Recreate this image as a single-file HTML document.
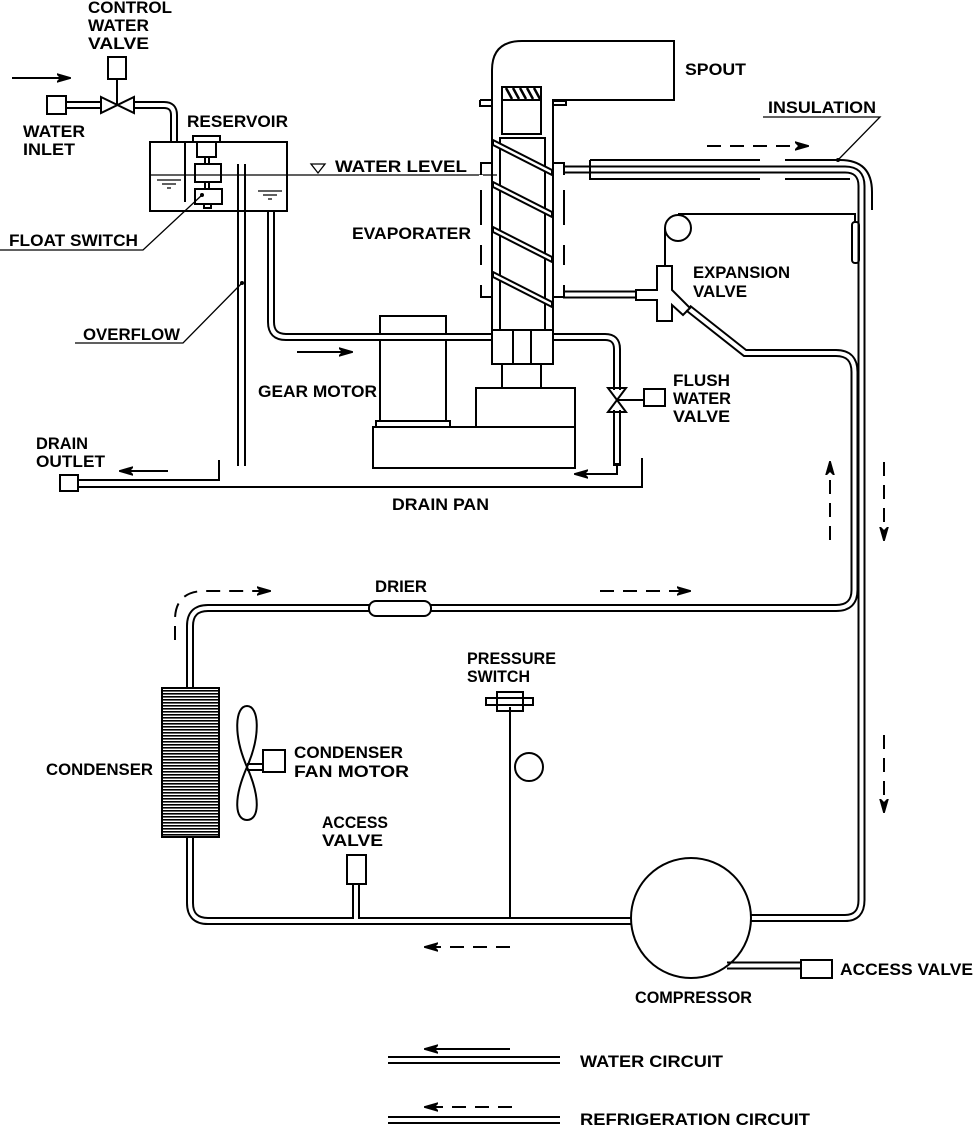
<!DOCTYPE html>
<html><head><meta charset="utf-8"><style>
html,body{margin:0;padding:0;background:#fff;}
svg{display:block}
text{font-family:"Liberation Sans",sans-serif;font-weight:bold;font-size:16.5px;fill:#000}
.l{fill:none;stroke:#000;stroke-width:2}
.t{fill:none;stroke:#000;stroke-width:1.3}
.po{fill:none;stroke:#000;stroke-width:8}
.pi{fill:none;stroke:#fff;stroke-width:4}
.d{fill:none;stroke:#000;stroke-width:2;stroke-dasharray:14,9}
</style></head><body>
<svg width="973" height="1125" viewBox="0 0 973 1125" xmlns="http://www.w3.org/2000/svg">
<defs>
<marker id="ah" markerWidth="14" markerHeight="10" refX="13" refY="5" orient="auto" markerUnits="userSpaceOnUse">
<path d="M0,1 L14,5 L0,9 L4,5 Z" fill="#000" stroke="#000" stroke-width="1.5"/></marker>
<pattern id="hatch" width="10" height="3" patternUnits="userSpaceOnUse"><rect width="10" height="1.6" fill="#000"/></pattern>
</defs>

<g>
<path class="po" d="M66,105 H101 M134,105 H164 Q174,105 174,115 V142"/>
<path class="pi" d="M66,105 H101 M134,105 H164 Q174,105 174,115 V143"/>
<path class="po" d="M271,211 V322 Q271,337 286,337 H492"/>
<path class="pi" d="M271,210 V322 Q271,337 286,337 H493"/>
<path class="po" d="M553,337 H605 Q617,337 617,349 V390 M617,410 V466"/>
<path class="pi" d="M552,337 H605 Q617,337 617,349 V391 M617,409 V463"/>
<path class="po" d="M563,169.5 H845 Q861.5,169.5 861.5,186 V900 Q861.5,918 845,918 H751"/>
<path class="pi" d="M562,169.5 H845 Q861.5,169.5 861.5,186 V900 Q861.5,918 845,918 H750"/>
<path class="po" d="M431,608 H836 Q854.5,608 854.5,590 V372 Q854.5,353 836,353 H745 L688,308"/>
<path class="pi" d="M430,608 H836 Q854.5,608 854.5,590 V372 Q854.5,353 836,353 H745 L688,308"/>
<path class="po" d="M369,608 H208 Q190,608 190,626 V688 M190,837 V903 Q190,921 208,921 H631"/>
<path class="pi" d="M370,608 H208 Q190,608 190,626 V689 M190,836 V903 Q190,921 208,921 H632"/>
<path class="po" d="M563,294.5 H636"/><path class="pi" d="M562,294.5 H637"/>
<path class="po" d="M356,884 V918"/><path class="pi" d="M356,883 V920"/>
<path class="po" d="M727,965.5 H801"/><path class="pi" d="M727,965.5 H802"/>
</g>

<rect x="47" y="96" width="19" height="18" class="l" fill="#fff"/>
<path class="l" d="M101,97 L134,113 V97 L101,113 Z" fill="#fff"/>
<rect x="108" y="57" width="18" height="22" class="l" fill="#fff"/>
<path class="l" d="M117,79 V105"/>
<path d="M12,78 H70" class="l" marker-end="url(#ah)"/>

<rect x="150" y="142" width="137" height="69" class="l" fill="none"/>
<path class="t" d="M150,175 H497"/>
<path class="l" d="M185,142 V202"/>
<rect x="193" y="136" width="27" height="6" class="l" fill="#fff"/>
<rect x="197" y="142" width="19" height="15" class="l" fill="#fff"/>
<path class="l" d="M205,157 V164 M209,157 V164 M205,182 V189 M209,182 V189"/>
<rect x="195" y="164" width="26" height="18" class="l" fill="#fff"/>
<rect x="195" y="189" width="27" height="15" class="l" fill="#fff"/>
<rect x="204" y="204" width="7" height="4" class="l" fill="#fff"/>
<path class="t" d="M157,180 H181 M162,184 H176 M167,188 H171 M258,191 H282 M263,195 H277 M268,199 H272"/>
<path class="l" d="M238,164 V466 M245,164 V466"/>
<path class="t" d="M311,164 H325 L318,173 Z"/>
<path class="t" d="M0,250 H143 L202,195"/><circle cx="202" cy="195" r="2"/>
<path class="t" d="M75,343 H183 L242,283"/><circle cx="242" cy="283" r="2"/>

<path class="l" d="M219,460 V480 H78 M78,487 H642 V458"/>
<rect x="60" y="475" width="18" height="16" class="l" fill="#fff"/>
<path d="M168,471 H120" class="l" marker-end="url(#ah)"/>
<path d="M297,352 H352" class="l" marker-end="url(#ah)"/>

<path class="l" d="M380,333 V316 H446 V333 M380,340 V421 M446,340 V421"/>
<rect x="376" y="421" width="74" height="6" class="l" fill="#fff"/>
<rect x="373" y="427" width="202" height="41" class="l" fill="none"/>
<rect x="476" y="388" width="99" height="39" class="l" fill="none"/>
<path class="l" d="M502,364 V388 M541,364 V388"/>

<path class="l" d="M492,330 V70 Q492,41 522,41 H674 V100 H553 V330" fill="none"/>
<rect x="502" y="87" width="39" height="13" class="l" fill="#fff"/>
<path stroke="#000" stroke-width="2.5" d="M506,88 L512,99 M513,88 L519,99 M520,88 L526,99 M527,88 L533,99 M534,88 L540,99"/>
<path class="l" d="M480,100 H492 M480,100 V106 H492 M553,101 H566 V105 H553"/>
<rect x="502" y="100" width="39" height="34" class="l" fill="none"/>
<rect x="500" y="138" width="45" height="192" class="l" fill="none"/>
<path class="l" d="M492,330 H553 V364 H492 Z M513,330 V364 M531,330 V364"/>
<rect x="481" y="163" width="11" height="134" class="l" fill="#fff"/>
<rect x="553" y="163" width="11" height="134" class="l" fill="#fff"/>
<path stroke="#fff" stroke-width="4" d="M481,175 V190 M481,225 V245 M481,265 V285 M564,175 V190 M564,225 V245 M564,265 V285"/>
<g class="l">
<path d="M493,140 L552,170 L552,175 L493,145 Z" fill="#fff"/>
<path d="M493,182 L552,212 L552,217 L493,187 Z" fill="#fff"/>
<path d="M493,227 L552,257 L552,262 L493,232 Z" fill="#fff"/>
<path d="M493,272 L552,302 L552,307 L493,277 Z" fill="#fff"/>
</g>

<path class="l" d="M590,160 H760 M785,160 H840 Q872,160 872,192 V210 M590,160 V179 H760 M785,179 H850"/>
<path class="t" d="M763,117 H880 L838,160"/><circle cx="838" cy="160" r="2"/>
<path d="M707,146 H808" class="d" marker-end="url(#ah)"/>

<rect x="852" y="222" width="7" height="41" rx="3" class="l" fill="#fff"/>
<path class="l" d="M678,214 H855 V222"/>
<circle cx="678" cy="228" r="13" class="l" fill="#fff"/>
<path class="l" d="M665,228 V266"/>
<path class="l" d="M657,266 H672 V290 L690,308 L683,315 L672,305 V321 H657 V300 H636 V290 H657 Z" fill="#fff"/>

<path class="l" d="M608,388 H626 L608,412 H626 Z" fill="#fff"/>
<path class="l" d="M617,400 H644"/>
<rect x="644" y="389" width="21" height="17" class="l" fill="#fff"/>
<path d="M617,463 V474 H575" class="l" marker-end="url(#ah)"/>

<rect x="369" y="601" width="62" height="15" rx="7" class="l" fill="#fff"/>
<rect x="162" y="688" width="57" height="149" fill="url(#hatch)" stroke="#000" stroke-width="2"/>
<path class="l" d="M247,767 C233,735 235,706 247,706 C259,706 261,735 247,767 C233,799 235,820 247,820 C259,820 261,799 247,767 Z"/>
<path class="l" d="M247,764 H263 M247,770 H263"/>
<rect x="263" y="750" width="22" height="22" class="l" fill="#fff"/>
<rect x="347" y="855" width="19" height="29" class="l" fill="#fff"/>
<path class="l" d="M510,707 V918"/>
<rect x="486" y="698" width="47" height="7" class="l" fill="#fff"/>
<rect x="497" y="692" width="26" height="19" class="l" fill="none"/>
<path class="l" d="M486,698 H533 V705 H486 Z" fill="none"/>
<circle cx="529" cy="767" r="14" class="l" fill="#fff"/>
<circle cx="691" cy="918" r="60" class="l" fill="#fff"/>
<rect x="801" y="960" width="31" height="18" class="l" fill="#fff"/>

<path d="M175,640 V620 Q175,591 205,591 H270" class="d" marker-end="url(#ah)"/>
<path d="M600,591 H690" class="d" marker-end="url(#ah)"/>
<path d="M830,540 V462" class="d" marker-end="url(#ah)"/>
<path d="M884,462 V540" class="d" marker-end="url(#ah)"/>
<path d="M884,735 V812" class="d" marker-end="url(#ah)"/>
<path d="M510,947 H425" class="d" marker-end="url(#ah)"/>

<path class="l" d="M388,1057 H560 M388,1063 H560 M388,1117 H560 M388,1123 H560"/>
<path d="M510,1049 H425" class="l" marker-end="url(#ah)"/>
<path d="M512,1107 H425" class="d" marker-end="url(#ah)"/>

<text x="88" y="13" textLength="84" lengthAdjust="spacingAndGlyphs">CONTROL</text>
<text x="88" y="31" textLength="61" lengthAdjust="spacingAndGlyphs">WATER</text>
<text x="88" y="49" textLength="61" lengthAdjust="spacingAndGlyphs">VALVE</text>
<text x="23" y="137" textLength="62" lengthAdjust="spacingAndGlyphs">WATER</text>
<text x="23" y="155" textLength="52" lengthAdjust="spacingAndGlyphs">INLET</text>
<text x="187" y="127" textLength="101" lengthAdjust="spacingAndGlyphs">RESERVOIR</text>
<text x="335" y="172" textLength="132" lengthAdjust="spacingAndGlyphs">WATER LEVEL</text>
<text x="9" y="246" textLength="129" lengthAdjust="spacingAndGlyphs">FLOAT SWITCH</text>
<text x="83" y="340" textLength="97" lengthAdjust="spacingAndGlyphs">OVERFLOW</text>
<text x="352" y="239" textLength="119" lengthAdjust="spacingAndGlyphs">EVAPORATER</text>
<text x="258" y="397" textLength="119" lengthAdjust="spacingAndGlyphs">GEAR MOTOR</text>
<text x="36" y="449" textLength="52" lengthAdjust="spacingAndGlyphs">DRAIN</text>
<text x="36" y="467" textLength="69" lengthAdjust="spacingAndGlyphs">OUTLET</text>
<text x="392" y="510" textLength="97" lengthAdjust="spacingAndGlyphs">DRAIN PAN</text>
<text x="685" y="75" textLength="61" lengthAdjust="spacingAndGlyphs">SPOUT</text>
<text x="768" y="113" textLength="108" lengthAdjust="spacingAndGlyphs">INSULATION</text>
<text x="693" y="278" textLength="97" lengthAdjust="spacingAndGlyphs">EXPANSION</text>
<text x="693" y="297" textLength="54" lengthAdjust="spacingAndGlyphs">VALVE</text>
<text x="673" y="386" textLength="57" lengthAdjust="spacingAndGlyphs">FLUSH</text>
<text x="673" y="404" textLength="58" lengthAdjust="spacingAndGlyphs">WATER</text>
<text x="673" y="422" textLength="57" lengthAdjust="spacingAndGlyphs">VALVE</text>
<text x="375" y="592" textLength="52" lengthAdjust="spacingAndGlyphs">DRIER</text>
<text x="467" y="664" textLength="89" lengthAdjust="spacingAndGlyphs">PRESSURE</text>
<text x="467" y="682" textLength="63" lengthAdjust="spacingAndGlyphs">SWITCH</text>
<text x="46" y="775" textLength="107" lengthAdjust="spacingAndGlyphs">CONDENSER</text>
<text x="294" y="758" textLength="109" lengthAdjust="spacingAndGlyphs">CONDENSER</text>
<text x="294" y="777" textLength="115" lengthAdjust="spacingAndGlyphs">FAN  MOTOR</text>
<text x="322" y="828" textLength="66" lengthAdjust="spacingAndGlyphs">ACCESS</text>
<text x="322" y="846" textLength="61" lengthAdjust="spacingAndGlyphs">VALVE</text>
<text x="635" y="1003" textLength="117" lengthAdjust="spacingAndGlyphs">COMPRESSOR</text>
<text x="840" y="975" textLength="133" lengthAdjust="spacingAndGlyphs">ACCESS VALVE</text>
<text x="580" y="1067" textLength="143" lengthAdjust="spacingAndGlyphs">WATER CIRCUIT</text>
<text x="580" y="1125" textLength="230" lengthAdjust="spacingAndGlyphs">REFRIGERATION CIRCUIT</text>
</svg>
</body></html>
